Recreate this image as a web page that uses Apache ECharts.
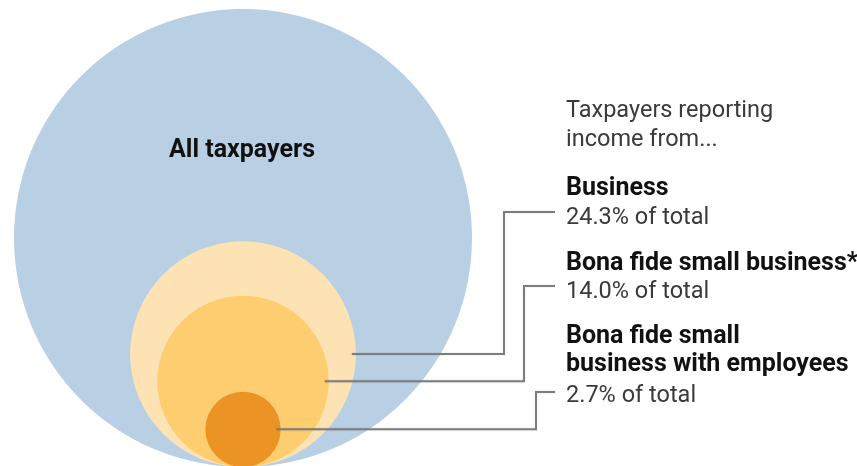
<!DOCTYPE html>
<html>
<head>
<meta charset="utf-8">
<script src="https://cdn.jsdelivr.net/npm/echarts@6/dist/echarts.min.js"></script>
<style>
html,body{margin:0;padding:0;background:#fff;}
#chart{width:857px;height:466px;}
</style>
</head>
<body>
<div id="chart"></div>
<script>
// ---- data ----
const categories = ['All taxpayers', 'Business', 'Bona fide small business*', 'Bona fide small business with employees'];
const shares = [100, 24.3, 14.0, 2.7]; // % of all taxpayers
const labelTitles = [null, ['Business'], ['Bona fide small business*'], ['Bona fide small', 'business with employees']];
const headerLines = ['Taxpayers reporting', 'income from...'];

// ---- styles / layout ----
const colors = ['#b8cfe4', '#fde3b4', '#fdcd6f', '#eb9324'];
const W = 857, H = 466;
const R_PX = 229, CX = 243, BOTTOM = 467;
const FONT = 'Roboto, "Noto Sans", sans-serif';
const BOLD = '700 25px ' + FONT;
const REG = '400 23.5px ' + FONT;
const elbowX = [null, 504, 524, 536];
const labelMidY = [null, 212, 286, 392];
const lineEndX = 555;
const textX = 566;

const circleData = shares.map((s, i) => {
  const r = Math.sqrt(s / 100);
  return [0, r, r, i];
});

const chart = echarts.init(document.getElementById('chart'), null, {renderer: 'canvas'});

const graphics = [];
headerLines.forEach((t, i) => {
  graphics.push({type: 'text', left: textX, top: 99 + i * 29,
    style: {text: t, font: REG, fill: '#3a3a3a'}});
});
// sub labels
const titleTops = [null, [176], [251], [324, 352]];
const pctTops = [null, 206, 280, 384];
for (let i = 1; i < shares.length; i++) {
  labelTitles[i].forEach((t, j) => {
    graphics.push({type: 'text', left: textX, top: titleTops[i][j],
      style: {text: t, font: BOLD, fill: '#111'}});
  });
  graphics.push({type: 'text', left: textX, top: pctTops[i],
    style: {text: shares[i].toFixed(1) + '% of total', font: REG, fill: '#3a3a3a'}});
}

chart.setOption({
  animation: false,
  grid: {left: 0, top: 0, width: W, height: H},
  xAxis: {type: 'value', show: false, min: -CX / R_PX, max: (W - CX) / R_PX},
  yAxis: {type: 'value', show: false, min: (BOTTOM - H) / R_PX, max: BOTTOM / R_PX},
  graphic: graphics,
  series: [
    {
      type: 'custom',
      data: circleData,
      encode: {x: 0, y: 1},
      renderItem: function (params, api) {
        const idx = api.value(3);
        const c = api.coord([api.value(0), api.value(1)]);
        const s = api.size([api.value(2), api.value(2)]);
        const children = [{
          type: 'circle',
          shape: {cx: c[0], cy: c[1], r: s[0]},
          style: {fill: colors[idx]}
        }];
        if (idx === 0) {
          children.push({
            type: 'text',
            style: {text: categories[0], x: c[0] - 1, y: 151, font: BOLD,
              fill: '#111', align: 'center', verticalAlign: 'middle'}
          });
        }
        return {type: 'group', children: children};
      }
    },
    {
      type: 'custom',
      data: circleData.slice(1),
      encode: {x: 0, y: 1},
      z: 5,
      renderItem: function (params, api) {
        const idx = api.value(3);
        const right = api.coord([api.value(0) + api.value(2), api.value(1)]);
        const x0 = right[0] - 4, y0 = right[1];
        return {
          type: 'polyline',
          shape: {points: [[x0, y0], [elbowX[idx], y0], [elbowX[idx], labelMidY[idx]], [lineEndX, labelMidY[idx]]]},
          style: {stroke: '#7d7d7d', lineWidth: 2, fill: null, shadowColor: 'rgba(0,0,0,0.15)', shadowBlur: 2}
        };
      }
    }
  ]
});
</script>
</body>
</html>
